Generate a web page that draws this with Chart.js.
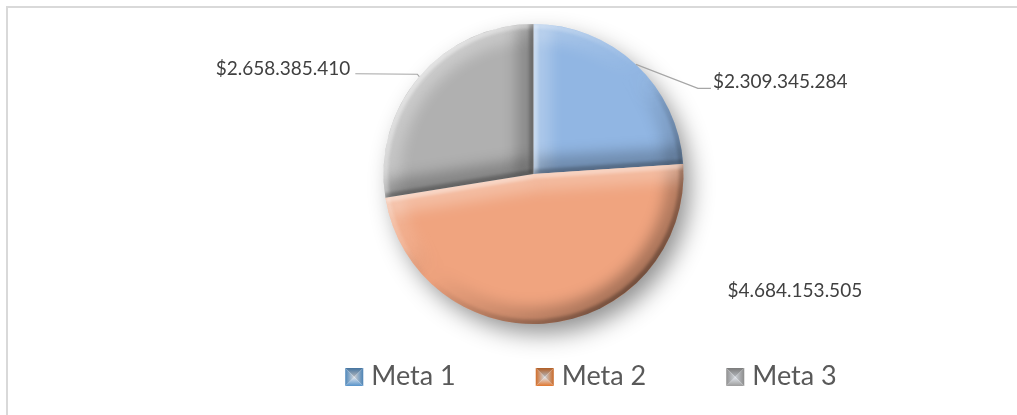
<!DOCTYPE html>
<html>
<head>
<meta charset="utf-8">
<script src="https://cdn.jsdelivr.net/npm/chart.js@4.4.1/dist/chart.umd.min.js"></script>
<style>
    body { margin: 0; background: #ffffff; }
    #moldura {
        position: absolute; left: 6px; top: 6px; width: 1200px; height: 600px;
        border-top: 2px solid #d9d9d9; border-left: 2px solid #d9d9d9;
    }
    #caixa { position: absolute; left: 0; top: 0; width: 1017px; height: 415px; }
</style>
</head>
<body>
<div id="moldura"></div>
<div id="caixa"><canvas id="myChart"></canvas></div>
<script>
let categorias = ['Meta 1', 'Meta 2', 'Meta 3'];
let valores = [2309345284, 4684153505, 2658385410];
let rotulos = ['$2.309.345.284', '$4.684.153.505', '$2.658.385.410'];

let coresFatia = ['#91b6e3', '#f0a47f', '#b0b0b0'];
let coresBase = ['#5b9bd5', '#ed7d31', '#a5a5a5'];

// luz vindo de cima/esquerda
let luz = { x: -Math.SQRT1_2, y: -Math.SQRT1_2 };

function sombraCor(nx, ny, claro, escuro)
{
    let s = nx * luz.x + ny * luz.y;
    if(s > 0) return 'rgba(255,255,255,' + (claro * s).toFixed(3) + ')';
    return 'rgba(0,0,0,' + (escuro * -s).toFixed(3) + ')';
}

let sombraPizza = {
    id: 'sombraPizza',
    beforeDatasetsDraw(chart) {
        let arco = chart.getDatasetMeta(0).data[0];
        if(!arco) return;
        let p = arco.getProps(['x', 'y', 'outerRadius'], true);
        let ctx = chart.ctx;
        ctx.save();
        ctx.shadowColor = 'rgba(0,0,0,0.45)';
        ctx.shadowBlur = 24;
        ctx.shadowOffsetX = 8;
        ctx.shadowOffsetY = 11;
        ctx.fillStyle = '#ffffff';
        ctx.beginPath();
        ctx.arc(p.x, p.y, p.outerRadius - 2, 0, Math.PI * 2);
        ctx.fill();
        ctx.restore();
    }
};

function tracaChanfro(ctx, p, largura, desfoque, claro, escuro)
{
    ctx.filter = 'blur(' + desfoque + 'px)';
    let grad = ctx.createConicGradient(0, p.x, p.y);
    for(let i = 0; i <= 24; i++)
    {
        let a = i / 24 * Math.PI * 2;
        grad.addColorStop(i / 24, sombraCor(Math.cos(a), Math.sin(a), claro, escuro));
    }
    ctx.strokeStyle = grad;
    ctx.lineWidth = largura;
    ctx.beginPath();
    ctx.arc(p.x, p.y, p.outerRadius, p.startAngle, p.endAngle);
    ctx.stroke();

    let lados = [
        { a: p.startAngle, n: p.startAngle - Math.PI / 2 },
        { a: p.endAngle, n: p.endAngle + Math.PI / 2 }
    ];
    lados.forEach(l => {
        ctx.strokeStyle = sombraCor(Math.cos(l.n), Math.sin(l.n), claro, escuro);
        ctx.lineWidth = largura;
        ctx.beginPath();
        ctx.moveTo(p.x, p.y);
        ctx.lineTo(p.x + Math.cos(l.a) * p.outerRadius, p.y + Math.sin(l.a) * p.outerRadius);
        ctx.stroke();
    });
}

let chanfro = {
    id: 'chanfro',
    afterDatasetsDraw(chart) {
        let ctx = chart.ctx;
        chart.getDatasetMeta(0).data.forEach(arco => {
            let p = arco.getProps(['x', 'y', 'startAngle', 'endAngle', 'outerRadius'], true);
            ctx.save();
            ctx.beginPath();
            ctx.moveTo(p.x, p.y);
            ctx.arc(p.x, p.y, p.outerRadius, p.startAngle, p.endAngle);
            ctx.closePath();
            ctx.clip();
            tracaChanfro(ctx, p, 34, 7, 0.35, 0.3);
            tracaChanfro(ctx, p, 9, 1.5, 0.45, 0.3);
            ctx.restore();
        });
    }
};

let rotulosPizza = {
    id: 'rotulosPizza',
    afterDraw(chart, args, opts) {
        let ctx = chart.ctx;
        ctx.save();
        ctx.font = '19px Lato';
        ctx.fillStyle = '#404040';
        ctx.textBaseline = 'alphabetic';
        chart.getDatasetMeta(0).data.forEach((arco, i) => {
            let p = arco.getProps(['x', 'y', 'startAngle', 'endAngle', 'outerRadius'], true);
            let meio = (p.startAngle + p.endAngle) / 2;
            let bx = p.x + Math.cos(meio) * p.outerRadius;
            let by = p.y + Math.sin(meio) * p.outerRadius;
            let pos = opts.posicoes[i];
            if(pos.linha)
            {
                ctx.strokeStyle = '#a6a6a6';
                ctx.lineWidth = 1.2;
                ctx.beginPath();
                ctx.moveTo(bx, by);
                pos.linha.forEach(pt => ctx.lineTo(bx + pt[0], by + pt[1]));
                ctx.stroke();
            }
            ctx.textAlign = pos.alinhar;
            ctx.fillText(rotulos[i], bx + pos.dx, by + pos.dy);
        });

        // legenda
        let L = opts.legenda;
        ctx.font = L.fonte;
        let larguras = categorias.map(c => L.caixa + L.espaco + ctx.measureText(c).width);
        let total = larguras.reduce((a, b) => a + b, 0) + L.intervalo * (categorias.length - 1);
        let x = L.centroX - total / 2;
        categorias.forEach((c, i) => {
            desenhaMarcador(ctx, x, L.base - L.caixa + 1, L.caixa, coresBase[i]);
            ctx.fillStyle = '#595959';
            ctx.textAlign = 'left';
            ctx.fillText(c, x + L.caixa + L.espaco, L.base);
            x += larguras[i] + L.intervalo;
        });
        ctx.restore();
    }
};

function desenhaMarcador(ctx, x, y, s, cor)
{
    let cx = x + s / 2, cy = y + s / 2;
    let faces = [
        { p: [[x, y], [x + s, y]], tom: 'rgba(0,0,0,0.25)' },
        { p: [[x + s, y], [x + s, y + s]], tom: 'rgba(0,0,0,0.15)' },
        { p: [[x + s, y + s], [x, y + s]], tom: 'rgba(0,0,0,0.05)' },
        { p: [[x, y + s], [x, y]], tom: 'rgba(0,0,0,0.12)' }
    ];
    ctx.save();
    faces.forEach(f => {
        let mx = (f.p[0][0] + f.p[1][0]) / 2, my = (f.p[0][1] + f.p[1][1]) / 2;
        let g = ctx.createLinearGradient(mx, my, cx, cy);
        g.addColorStop(0, cor);
        g.addColorStop(1, '#eef3fa');
        ctx.beginPath();
        ctx.moveTo(f.p[0][0], f.p[0][1]);
        ctx.lineTo(f.p[1][0], f.p[1][1]);
        ctx.lineTo(cx, cy);
        ctx.closePath();
        ctx.fillStyle = g;
        ctx.fill();
        ctx.fillStyle = f.tom;
        ctx.fill();
    });
    ctx.restore();
}

let dados = {
    labels: categorias,
    datasets: [{
        data: valores,
        backgroundColor: coresFatia,
        borderWidth: 0,
        hoverOffset: 0
    }]
};

let config = {
    type: 'pie',
    data: dados,
    options: {
        responsive: true,
        maintainAspectRatio: false,
        animation: false,
        layout: { padding: { left: 50, right: 0, top: 24, bottom: 91 } },
        plugins: {
            legend: { display: false },
            tooltip: { enabled: false },
            rotulosPizza: {
                posicoes: [
                    { dx: 77, dy: 24, alinhar: 'left', linha: [[62, 24], [75, 24]] },
                    { dx: 177, dy: -26, alinhar: 'left' },
                    { dx: -69, dy: -2, alinhar: 'right', linha: [[-2, -2.5], [-64, -3]] }
                ],
                legenda: { fonte: '27px Lato', caixa: 18, espaco: 8, intervalo: 80, centroX: 591, base: 385 }
            }
        }
    },
    plugins: [sombraPizza, chanfro, rotulosPizza]
};

let mychart = new Chart(document.getElementById('myChart'), config);
</script>
</body>
</html>
